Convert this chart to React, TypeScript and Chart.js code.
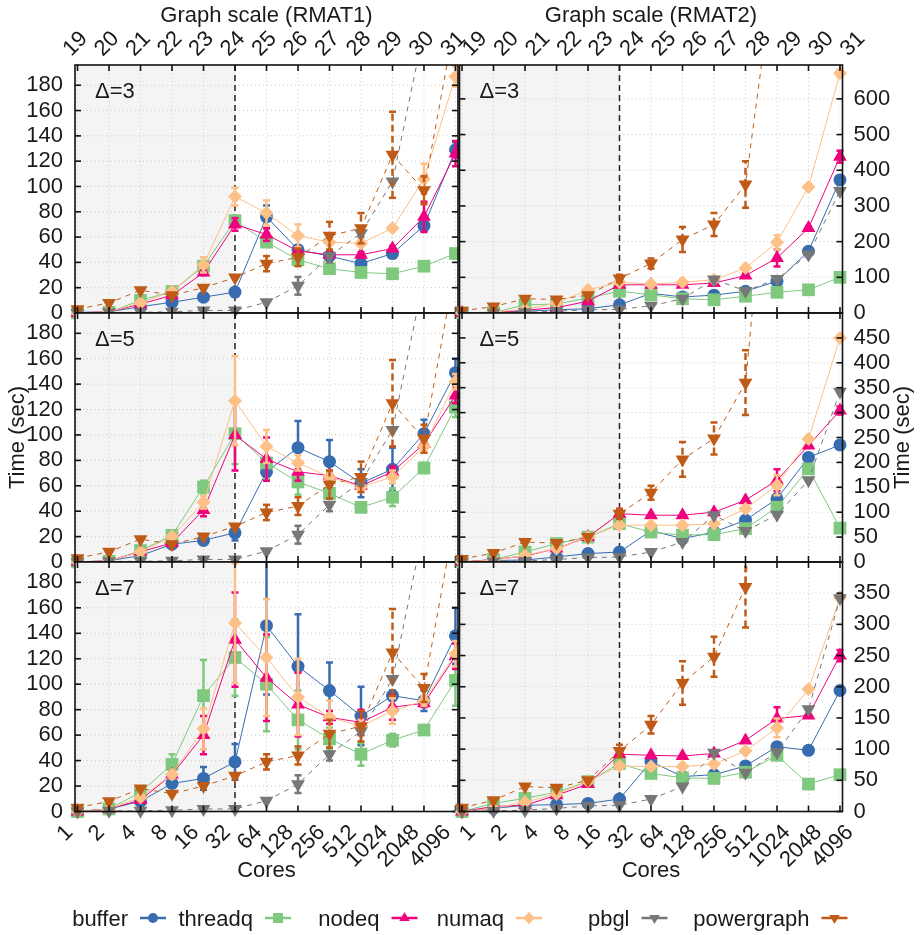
import React, { useEffect, useRef } from 'react';
import { Chart, registerables } from 'chart.js';

Chart.register(...registerables);

const FONT = '"Liberation Sans", Arial, Helvetica, sans-serif';
const FS = 22;
const INK = '#1a1a1a';

// ---------- categories / tick labels ----------
const coresLabels = ['1', '2', '4', '8', '16', '32', '64', '128', '256', '512', '1024', '2048', '4096'];
const graphScaleLabels = ['19', '20', '21', '22', '23', '24', '25', '26', '27', '28', '29', '30', '31'];
const seriesNames = ['buffer', 'threadq', 'nodeq', 'numaq', 'pbgl', 'powergraph'];
const deltaNames = ['Δ=3', 'Δ=5', 'Δ=7'];
const topTitles = ['Graph scale (RMAT1)', 'Graph scale (RMAT2)'];
const xAxisTitle = 'Cores';
const yAxisTitle = 'Time (sec)';
const splitIndex = 5; // 32 cores / scale 24

const yTicksRmat1 = [0, 20, 40, 60, 80, 100, 120, 140, 160, 180];
const yTicksRmat2D3 = [0, 100, 200, 300, 400, 500, 600];
const yTicksRmat2D5 = [0, 50, 100, 150, 200, 250, 300, 350, 400, 450];
const yTicksRmat2D7 = [0, 50, 100, 150, 200, 250, 300, 350];
const yMaxRmat1 = 196;
const yMaxRmat2D3 = 695;
const yMaxRmat2D5 = 500;
const yMaxRmat2D7 = 400;

// ---------- RMAT1, delta = 3 ----------
const r1d3Buffer = [0.5, 1, 5, 8.5, 12.5, 16.5, 76, 50, 45, 39, 47, 69, 129];
const r1d3BufferErr = [0, 0, 0, 0, 0, 0, 9, 3, 3, 2, 3, 4, 6];
const r1d3Threadq = [0, 0.5, 10, 17, 37, 73, 56, 42, 35, 32, 31, 37, 47];
const r1d3ThreadqErr = [0, 0, 2, 1, 2, 4, 3, 3, 2, 1, 1, 2, 3];
const r1d3Nodeq = [0, 1, 7, 14, 32, 70, 62, 49, 46, 46, 51, 76, 126];
const r1d3NodeqErr = [0, 0, 0, 1, 2, 5, 5, 3, 2, 2, 2, 12, 10];
const r1d3Numaq = [0, 1, 8, 17, 38, 92, 79, 61, 56, 55, 67, 106, 187];
const r1d3NumaqErr = [0, 0, 0, 1, 6, 7, 10, 9, 2, 2, 2, 12, 8];

// ---------- RMAT1, delta = 5 ----------
const r1d5Buffer = [0, 1, 5, 14, 17, 23, 71, 90, 79, 62, 73, 101, 149];
const r1d5BufferErr = [0, 0, 0, 1, 2, 6, 7, 21, 17, 11, 17, 11, 11];
const r1d5Threadq = [0, 0.5, 9, 21, 59, 101, 78, 63, 54, 43, 51, 74, 122];
const r1d5ThreadqErr = [0, 0, 1, 2, 5, 24, 13, 10, 4, 2, 7, 4, 8];
const r1d5Nodeq = [0, 1, 8, 15, 41, 100, 81, 71, 68, 60, 71, 93, 131];
const r1d5NodeqErr = [0, 0, 0, 1, 5, 28, 17, 7, 4, 3, 4, 3, 6];
const r1d5Numaq = [0, 1, 8, 20, 47, 127, 91, 78, 67, 59, 67, 91, 142];
const r1d5NumaqErr = [0, 0, 0, 1, 5, 35, 13, 6, 5, 3, 5, 3, 6];

// ---------- RMAT1, delta = 7 ----------
const r1d7Buffer = [0, 2, 8, 22, 26, 39, 146, 114, 95, 75, 91, 87, 138];
const r1d7BufferErr = [0, 0, 0, 3, 9, 14, 54, 41, 22, 23, 4, 8, 22];
const r1d7Threadq = [0, 2, 15, 37, 91, 121, 100, 72, 57, 45, 56, 64, 103];
const r1d7ThreadqErr = [0, 0, 1, 8, 28, 30, 37, 23, 9, 9, 5, 2, 20];
const r1d7Nodeq = [0, 2, 9, 29, 60, 135, 105, 84, 74, 70, 82, 85, 122];
const r1d7NodeqErr = [0, 0, 0, 3, 15, 37, 34, 25, 5, 10, 10, 3, 10];
const r1d7Numaq = [0, 2, 11, 29, 65, 148, 121, 90, 74, 67, 79, 87, 124];
const r1d7NumaqErr = [0, 0, 0, 3, 16, 47, 46, 30, 13, 5, 10, 4, 10];

// ---------- RMAT1, independent of delta ----------
const r1Pbgl = [0, 0.5, 0.5, 1, 2, 2, 8.5, 21.5, 45, 63, 104, 224, 260];
const r1PbglErr = [0, 0, 0, 0, 0, 0, 0, 7, 5, 3, 0, 0, 0];
const r1Powergraph = [3, 8, 18, 14, 20, 28, 39, 44, 61, 67, 125, 97, 233];
const r1PowergraphErr = [0, 0, 0, 0, 0, 0, 6, 7, 11, 12, 34, 11, 0];

// ---------- RMAT2, delta = 3 ----------
const r2d3Buffer = [0, 2, 5, 9, 12, 23, 55, 45, 50, 61, 89, 173, 373];
const r2d3BufferErr = [0, 0, 0, 0, 0, 0, 0, 0, 0, 0, 5, 5, 10];
const r2d3Threadq = [0, 1, 23, 25, 42, 61, 51, 40, 37, 47, 58, 65, 100];
const r2d3ThreadqErr = [0, 0, 0, 0, 0, 0, 0, 0, 0, 0, 0, 0, 0];
const r2d3Nodeq = [0, 2, 8, 15, 33, 79, 79, 79, 84, 105, 154, 238, 438];
const r2d3NodeqErr = [0, 0, 0, 0, 0, 0, 0, 0, 0, 5, 24, 5, 17];
const r2d3Numaq = [0, 3, 10, 28, 65, 86, 81, 86, 93, 126, 198, 353, 672];
const r2d3NumaqErr = [0, 0, 0, 0, 0, 0, 0, 0, 0, 5, 20, 5, 10];

// ---------- RMAT2, delta = 5 ----------
const r2d5Buffer = [0, 3, 4, 10, 17, 20, 63, 47, 60, 84, 127, 210, 235];
const r2d5BufferErr = [0, 0, 0, 0, 0, 0, 0, 0, 0, 0, 8, 8, 0];
const r2d5Threadq = [0, 5, 20, 37, 50, 77, 60, 54, 55, 67, 110, 187, 68];
const r2d5ThreadqErr = [0, 0, 0, 0, 0, 0, 0, 0, 0, 0, 0, 0, 0];
const r2d5Nodeq = [0, 5, 12, 27, 50, 97, 94, 94, 100, 124, 164, 234, 304];
const r2d5NodeqErr = [0, 0, 0, 0, 0, 0, 0, 0, 0, 0, 22, 0, 8];
const r2d5Numaq = [0, 4, 13, 27, 50, 74, 74, 74, 77, 107, 154, 247, 450];
const r2d5NumaqErr = [0, 0, 0, 0, 0, 0, 0, 0, 0, 0, 20, 0, 0];

// ---------- RMAT2, delta = 7 ----------
const r2d7Buffer = [0, 5, 10, 11, 13, 20, 80, 56, 59, 73, 104, 98, 194];
const r2d7BufferErr = [0, 0, 0, 0, 0, 0, 0, 0, 0, 0, 0, 0, 0];
const r2d7Threadq = [0, 13, 21, 31, 48, 77, 61, 54, 53, 63, 90, 44, 59];
const r2d7ThreadqErr = [0, 0, 0, 0, 0, 0, 0, 0, 0, 0, 0, 0, 0];
const r2d7Nodeq = [0, 8, 10, 26, 44, 92, 90, 89, 93, 114, 149, 154, 250];
const r2d7NodeqErr = [0, 0, 0, 0, 0, 0, 0, 0, 0, 0, 18, 0, 9];
const r2d7Numaq = [0, 5, 15, 28, 48, 73, 72, 72, 76, 97, 134, 196, 343];
const r2d7NumaqErr = [0, 0, 0, 0, 0, 0, 0, 0, 0, 0, 15, 0, 0];

// ---------- RMAT2, independent of delta ----------
const r2Pbgl = [0, 1, 2, 5, 9, 10, 20, 40, 94, 62, 95, 164, 342];
const r2PbglErr = [0, 0, 0, 0, 0, 0, 0, 0, 0, 0, 0, 0, 0];
const r2Powergraph = [6, 18, 40, 38, 50, 97, 139, 206, 248, 360, 1020, null, null];
const r2PowergraphErr = [0, 0, 0, 0, 0, 10, 14, 35, 32, 65, 0, 0, 0];

// ---------- styles & layout ----------
const STYLES = [
  { color: '#386cb0', point: 'circle', r: 6.5, rot: 0, dash: [] as number[], errDash: [] as number[] },
  { color: '#7fc97f', point: 'rect', r: 9, rot: 0, dash: [], errDash: [] },
  { color: '#f0027f', point: 'triangle', r: 8, rot: 0, dash: [], errDash: [] },
  { color: '#fdc086', point: 'rectRot', r: 7, rot: 0, dash: [], errDash: [] },
  { color: '#777777', point: 'triangle', r: 8, rot: 180, dash: [5, 5], errDash: [7, 4] },
  { color: '#bf5b17', point: 'triangle', r: 8, rot: 180, dash: [5, 5], errDash: [7, 4] },
];

const W = 921;
const H = 935;
const AREA_X = [[75, 458], [459.5, 842.5]];
const AREA_Y = [[65, 313], [313, 562], [562, 811.5]];
const TOP_LABEL_DX = [-2, 13];
const TOP_LABEL_Y = 44;
const BOTTOM_LABEL_DX = [-8, 10];
const BOTTOM_LABEL_Y = 829;
const LEGEND_SAMPLE_X = [140, 265, 391.5, 516, 641.5, 821.5];

type Panel = {
  row: number;
  col: number;
  delta: string;
  yMax: number;
  yTicks: number[];
  values: (number | null)[][];
  errors: number[][];
};

const panels: Panel[] = [
  {
    row: 0, col: 0, delta: deltaNames[0], yMax: yMaxRmat1, yTicks: yTicksRmat1,
    values: [r1d3Buffer, r1d3Threadq, r1d3Nodeq, r1d3Numaq, r1Pbgl, r1Powergraph],
    errors: [r1d3BufferErr, r1d3ThreadqErr, r1d3NodeqErr, r1d3NumaqErr, r1PbglErr, r1PowergraphErr],
  },
  {
    row: 1, col: 0, delta: deltaNames[1], yMax: yMaxRmat1, yTicks: yTicksRmat1,
    values: [r1d5Buffer, r1d5Threadq, r1d5Nodeq, r1d5Numaq, r1Pbgl, r1Powergraph],
    errors: [r1d5BufferErr, r1d5ThreadqErr, r1d5NodeqErr, r1d5NumaqErr, r1PbglErr, r1PowergraphErr],
  },
  {
    row: 2, col: 0, delta: deltaNames[2], yMax: yMaxRmat1, yTicks: yTicksRmat1,
    values: [r1d7Buffer, r1d7Threadq, r1d7Nodeq, r1d7Numaq, r1Pbgl, r1Powergraph],
    errors: [r1d7BufferErr, r1d7ThreadqErr, r1d7NodeqErr, r1d7NumaqErr, r1PbglErr, r1PowergraphErr],
  },
  {
    row: 0, col: 1, delta: deltaNames[0], yMax: yMaxRmat2D3, yTicks: yTicksRmat2D3,
    values: [r2d3Buffer, r2d3Threadq, r2d3Nodeq, r2d3Numaq, r2Pbgl, r2Powergraph],
    errors: [r2d3BufferErr, r2d3ThreadqErr, r2d3NodeqErr, r2d3NumaqErr, r2PbglErr, r2PowergraphErr],
  },
  {
    row: 1, col: 1, delta: deltaNames[1], yMax: yMaxRmat2D5, yTicks: yTicksRmat2D5,
    values: [r2d5Buffer, r2d5Threadq, r2d5Nodeq, r2d5Numaq, r2Pbgl, r2Powergraph],
    errors: [r2d5BufferErr, r2d5ThreadqErr, r2d5NodeqErr, r2d5NumaqErr, r2PbglErr, r2PowergraphErr],
  },
  {
    row: 2, col: 1, delta: deltaNames[2], yMax: yMaxRmat2D7, yTicks: yTicksRmat2D7,
    values: [r2d7Buffer, r2d7Threadq, r2d7Nodeq, r2d7Numaq, r2Pbgl, r2Powergraph],
    errors: [r2d7BufferErr, r2d7ThreadqErr, r2d7NodeqErr, r2d7NumaqErr, r2PbglErr, r2PowergraphErr],
  },
];

function line(ctx: CanvasRenderingContext2D, x1: number, y1: number, x2: number, y2: number) {
  ctx.beginPath();
  ctx.moveTo(x1, y1);
  ctx.lineTo(x2, y2);
  ctx.stroke();
}

function drawMarker(ctx: CanvasRenderingContext2D, kind: string, rot: number, x: number, y: number, r: number) {
  ctx.beginPath();
  if (kind === 'circle') {
    ctx.arc(x, y, r, 0, Math.PI * 2);
  } else if (kind === 'rect') {
    ctx.rect(x - r, y - r, 2 * r, 2 * r);
  } else if (kind === 'rectRot') {
    ctx.moveTo(x - r, y);
    ctx.lineTo(x, y - r);
    ctx.lineTo(x + r, y);
    ctx.lineTo(x, y + r);
    ctx.closePath();
  } else {
    const s = rot === 180 ? -1 : 1;
    ctx.moveTo(x, y - s * r);
    ctx.lineTo(x + r * 0.866, y + s * r * 0.5);
    ctx.lineTo(x - r * 0.866, y + s * r * 0.5);
    ctx.closePath();
  }
  ctx.fill();
}

function makeDecor(p: Panel) {
  return {
    id: 'decor' + p.row + p.col,
    beforeDatasetsDraw(chart: any) {
      const { ctx, chartArea: ca, scales } = chart;
      const xs = scales.x;
      const ys = scales.y;
      ctx.save();
      const xd = xs.getPixelForValue(splitIndex);
      ctx.fillStyle = '#f4f4f4';
      ctx.fillRect(ca.left, ca.top, xd - ca.left, ca.bottom - ca.top);
      ctx.strokeStyle = '#cdcdcd';
      ctx.lineWidth = 1;
      ctx.setLineDash([1, 3]);
      for (let i = 0; i < coresLabels.length; i++) {
        const px = xs.getPixelForValue(i);
        line(ctx, px, ca.top, px, ca.bottom);
      }
      p.yTicks.forEach((v) => {
        if (v === 0) return;
        const py = ys.getPixelForValue(v);
        line(ctx, ca.left, py, ca.right, py);
      });
      ctx.strokeStyle = '#222';
      ctx.lineWidth = 1.5;
      ctx.setLineDash([6, 4]);
      line(ctx, xd, ca.top, xd, ca.bottom);
      ctx.restore();
    },
    beforeDatasetDraw(chart: any, args: any) {
      const ds = chart.data.datasets[args.index];
      if (!ds.errs) return;
      const { ctx, chartArea: ca, scales } = chart;
      const xs = scales.x;
      const ys = scales.y;
      ctx.save();
      ctx.beginPath();
      ctx.rect(ca.left - 5, ca.top, ca.right - ca.left + 10, ca.bottom - ca.top);
      ctx.clip();
      ctx.strokeStyle = ds.errColor;
      ctx.lineWidth = 2.5;
      ds.values.forEach((v: number | null, i: number) => {
        const e = ds.errs[i];
        if (v == null || !e || v > p.yMax) return;
        const x = xs.getPixelForValue(i);
        const y1 = ys.getPixelForValue(v - e);
        const y2 = ys.getPixelForValue(v + e);
        ctx.setLineDash(ds.errDash);
        line(ctx, x, y1, x, y2);
        ctx.setLineDash([]);
        line(ctx, x - 3.5, y1, x + 3.5, y1);
        line(ctx, x - 3.5, y2, x + 3.5, y2);
      });
      ctx.restore();
    },
    afterDatasetsDraw(chart: any) {
      const { ctx, chartArea: ca, scales } = chart;
      const xs = scales.x;
      const ys = scales.y;
      ctx.save();
      // frame + inward ticks
      ctx.strokeStyle = '#111';
      ctx.lineWidth = 1.6;
      ctx.setLineDash([]);
      ctx.strokeRect(ca.left, ca.top, ca.right - ca.left, ca.bottom - ca.top);
      for (let i = 0; i < coresLabels.length; i++) {
        const px = xs.getPixelForValue(i);
        line(ctx, px, ca.top, px, ca.top + 6);
        line(ctx, px, ca.bottom, px, ca.bottom - 6);
      }
      p.yTicks.forEach((v) => {
        const py = ys.getPixelForValue(v);
        line(ctx, ca.left, py, ca.left + 6, py);
        line(ctx, ca.right, py, ca.right - 6, py);
      });
      // panel label
      ctx.fillStyle = INK;
      ctx.font = `${FS}px ${FONT}`;
      ctx.textAlign = 'left';
      ctx.textBaseline = 'alphabetic';
      ctx.fillText(p.delta, ca.left + 20, ca.top + 33);
      const cx = (ca.left + ca.right) / 2;
      if (p.row === 0) {
        graphScaleLabels.forEach((t, i) => {
          ctx.save();
          ctx.translate(xs.getPixelForValue(i) + TOP_LABEL_DX[p.col], TOP_LABEL_Y);
          ctx.rotate(-Math.PI / 4);
          ctx.textAlign = 'center';
          ctx.textBaseline = 'middle';
          ctx.fillText(t, 0, 0);
          ctx.restore();
        });
        ctx.textAlign = 'center';
        ctx.textBaseline = 'alphabetic';
        ctx.fillText(topTitles[p.col], cx, 22);
      }
      if (p.row === 2) {
        coresLabels.forEach((t, i) => {
          ctx.save();
          ctx.translate(xs.getPixelForValue(i) + BOTTOM_LABEL_DX[p.col], BOTTOM_LABEL_Y);
          ctx.rotate(-Math.PI / 4);
          ctx.textAlign = 'right';
          ctx.textBaseline = 'middle';
          ctx.fillText(t, 0, 0);
          ctx.restore();
        });
        ctx.textAlign = 'center';
        ctx.textBaseline = 'alphabetic';
        ctx.fillText(xAxisTitle, cx, 877);
      }
      if (p.row === 1) {
        ctx.save();
        ctx.translate(p.col === 0 ? 17.5 : 903, (ca.top + ca.bottom) / 2);
        ctx.rotate(-Math.PI / 2);
        ctx.textAlign = 'center';
        ctx.textBaseline = 'middle';
        ctx.fillText(yAxisTitle, 0, 0);
        ctx.restore();
      }
      if (p.row === 2 && p.col === 0) {
        const ly = 918;
        seriesNames.forEach((name, k) => {
          const st = STYLES[k];
          const sx = LEGEND_SAMPLE_X[k];
          ctx.fillStyle = INK;
          ctx.textAlign = 'right';
          ctx.textBaseline = 'alphabetic';
          ctx.fillText(name, sx - 12, 926);
          ctx.strokeStyle = st.color;
          ctx.lineWidth = 2.5;
          line(ctx, sx, ly, sx + 26, ly);
          ctx.fillStyle = st.color;
          const rr = st.point === 'rect' ? 5 : st.point === 'circle' ? 5 : 6;
          drawMarker(ctx, st.point, st.rot, sx + 13, ly, rr);
        });
      }
      ctx.restore();
    },
  };
}

function makeConfig(p: Panel): any {
  const [l, r] = AREA_X[p.col];
  const [t, b] = AREA_Y[p.row];
  const yAxisW = p.col === 0 ? l : W - r;
  const padding = p.col === 0
    ? { left: 0, right: W - r, top: t, bottom: H - b }
    : { left: l, right: 0, top: t, bottom: H - b };

  const datasets: any[] = [];
  p.values.forEach((vals, k) => {
    const st = STYLES[k];
    datasets.push({
      label: seriesNames[k],
      data: vals.map((v, i) => ({ x: i, y: v })),
      borderColor: st.color,
      backgroundColor: st.color,
      borderWidth: 1,
      borderDash: st.dash,
      pointRadius: 0,
      fill: false,
      tension: 0,
      spanGaps: false,
      clip: 0,
      order: 1000 - 10 * k,
    });
    datasets.push({
      label: seriesNames[k] + ' marks',
      data: vals.map((v, i) => ({ x: i, y: v != null && v <= p.yMax ? v : null })),
      showLine: false,
      pointStyle: st.point,
      pointRadius: st.r,
      pointRotation: st.rot,
      pointBackgroundColor: st.color,
      pointBorderColor: st.color,
      pointBorderWidth: 0,
      clip: false,
      order: 1000 - 10 * k - 5,
      values: vals,
      errs: p.errors[k],
      errColor: st.color,
      errDash: st.errDash,
    });
  });

  return {
    type: 'line',
    data: { datasets },
    options: {
      responsive: false,
      animation: false,
      devicePixelRatio: 1,
      events: [],
      layout: { padding },
      plugins: { legend: { display: false }, tooltip: { enabled: false }, title: { display: false } },
      scales: {
        x: {
          type: 'linear',
          min: -0.08,
          max: 12.08,
          display: false,
        },
        y: {
          type: 'linear',
          position: p.col === 0 ? 'left' : 'right',
          min: 0,
          max: p.yMax,
          grid: { display: false, drawTicks: false },
          border: { display: false },
          afterBuildTicks: (scale: any) => {
            scale.ticks = p.yTicks.map((v) => ({ value: v }));
          },
          afterFit: (scale: any) => {
            scale.width = yAxisW;
          },
          ticks: {
            autoSkip: false,
            padding: p.col === 0 ? 12 : 11,
            color: INK,
            font: { family: FONT, size: FS },
          },
        },
      },
    },
    plugins: [makeDecor(p)],
  };
}

function PanelChart({ p }: { p: Panel }) {
  const ref = useRef<HTMLCanvasElement>(null);
  useEffect(() => {
    const chart = new Chart(ref.current as HTMLCanvasElement, makeConfig(p));
    return () => chart.destroy();
  }, [p]);
  return (
    <canvas
      ref={ref}
      width={W}
      height={H}
      style={{ position: 'absolute', left: 0, top: 0, width: W, height: H }}
    />
  );
}

export default function App() {
  return (
    <div style={{ position: 'absolute', left: 0, top: 0, width: W, height: H, background: '#fff', overflow: 'hidden' }}>
      {panels.map((p) => (
        <PanelChart key={`${p.row}-${p.col}`} p={p} />
      ))}
    </div>
  );
}
